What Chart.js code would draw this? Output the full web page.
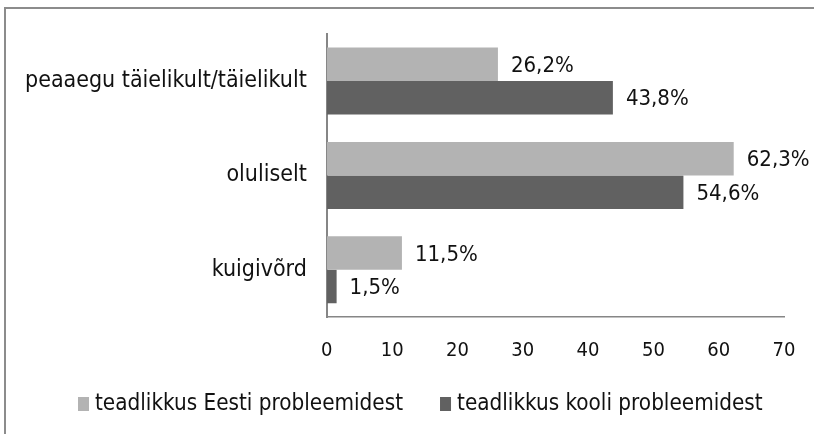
<!DOCTYPE html>
<html>
<head>
<meta charset="utf-8">
<script src="https://cdn.jsdelivr.net/npm/chart.js@4/dist/chart.umd.min.js"></script>
<style>
html,body{margin:0;padding:0;background:#fff;}
#wrap{width:814px;height:434px;position:relative;}
</style>
</head>
<body>
<div id="wrap"><canvas id="c" width="814" height="434"></canvas></div>
<script>
const categories = ["peaaegu täielikult/täielikult", "oluliselt", "kuigivõrd"];
const seriesNames = ["teadlikkus Eesti probleemidest", "teadlikkus kooli probleemidest"];
const eestiValues = [26.2, 62.3, 11.5];
const kooliValues = [43.8, 54.6, 1.5];
const xTicks = [0, 10, 20, 30, 40, 50, 60, 70];

const FONT = "'DejaVu Sans Condensed', 'Liberation Sans Narrow', 'DejaVu Sans', sans-serif";
const TEXT = '#111';

const framePlugin = {
  id: 'frame',
  beforeDraw(chart) {
    const ctx = chart.ctx;
    ctx.save();
    ctx.strokeStyle = '#8c8c8c';
    ctx.lineWidth = 2;
    ctx.strokeRect(5, 8, 900, 600);
    ctx.restore();
  }
};

const valueLabels = {
  id: 'valueLabels',
  afterDatasetsDraw(chart) {
    const ctx = chart.ctx;
    ctx.save();
    ctx.font = "22px " + FONT;
    ctx.fillStyle = TEXT;
    ctx.textAlign = 'left';
    ctx.textBaseline = 'middle';
    chart.data.datasets.forEach((ds, i) => {
      const meta = chart.getDatasetMeta(i);
      meta.data.forEach((el, j) => {
        const v = ds.data[j];
        const txt = v.toFixed(1).replace('.', ',') + '%';
        ctx.fillText(txt, el.x + 13, el.y + 2);
      });
    });
    ctx.restore();
  }
};

const customLegend = {
  id: 'customLegend',
  afterDraw(chart) {
    const ctx = chart.ctx;
    ctx.save();
    ctx.font = "22.3px " + FONT;
    ctx.textBaseline = 'middle';
    ctx.textAlign = 'left';
    let x = 78;
    const y = 404;
    chart.data.datasets.forEach((ds) => {
      ctx.fillStyle = ds.backgroundColor;
      ctx.fillRect(x, y - 7, 11, 14);
      ctx.fillStyle = TEXT;
      ctx.fillText(ds.label, x + 17, y);
      x += 17 + ctx.measureText(ds.label).width + 37;
    });
    ctx.restore();
  }
};

new Chart(document.getElementById('c'), {
  type: 'bar',
  data: {
    labels: categories,
    datasets: [
      { label: seriesNames[0], data: eestiValues, backgroundColor: '#b3b3b3', borderWidth: 0,
        categoryPercentage: 0.71, barPercentage: 1.0 },
      { label: seriesNames[1], data: kooliValues, backgroundColor: '#616161', borderWidth: 0,
        categoryPercentage: 0.71, barPercentage: 1.0 }
    ]
  },
  options: {
    indexAxis: 'y',
    responsive: false,
    animation: false,
    layout: { autoPadding: false, padding: { left: 5, right: 30, top: 33, bottom: 49 } },
    scales: {
      x: {
        min: 0, max: 70,
        afterBuildTicks(axis) { axis.ticks = xTicks.map(v => ({ value: v })); },
        afterFit(axis) { axis.paddingRight = 0; axis.paddingLeft = 0; },
        grid: { display: false, drawTicks: false },
        border: { display: true, color: '#868686', width: 1.5 },
        ticks: { color: TEXT, font: { family: FONT, size: 20 }, padding: 22, maxRotation: 0 }
      },
      y: {
        grid: { display: false, drawTicks: false },
        border: { display: true, color: '#868686', width: 2 },
        ticks: { color: TEXT, font: { family: FONT, size: 23 }, padding: 20 }
      }
    },
    plugins: {
      legend: { display: false },
      tooltip: { enabled: false }
    }
  },
  plugins: [framePlugin, valueLabels, customLegend]
});
</script>
</body>
</html>
